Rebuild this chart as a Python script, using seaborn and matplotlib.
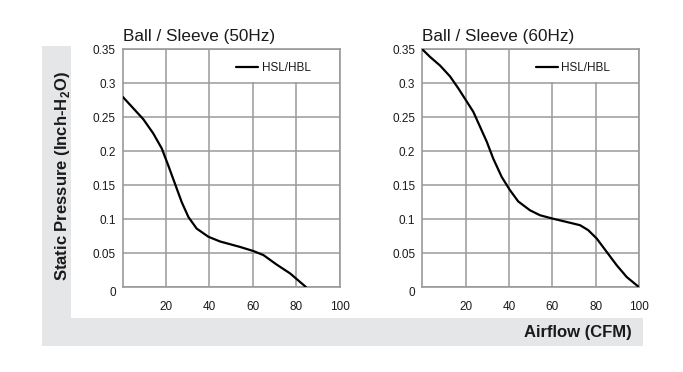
import matplotlib
matplotlib.use("Agg")
import matplotlib.pyplot as plt
from matplotlib.patches import Rectangle
import seaborn as sns
import pandas as pd

# ---- data ----
flow_50 = [0, 4.9, 9.5, 14.1, 18.0, 21.0, 24.1, 27.2, 30.3, 34.1, 39.5, 44.9, 49.5, 54.1, 60.2, 64.9, 71.0, 77.2, 84.5]
pres_50 = [0.280, 0.263, 0.247, 0.226, 0.204, 0.179, 0.152, 0.125, 0.103, 0.086, 0.074, 0.067, 0.063, 0.059, 0.053, 0.047, 0.033, 0.020, 0.0]

flow_60 = [0, 3.5, 8.2, 12.8, 16.6, 20.5, 23.5, 26.6, 29.7, 32.7, 36.6, 40.4, 44.2, 49.6, 54.2, 59.9, 66.5, 72.7, 76.5, 80.4, 85.0, 89.6, 94.2, 99.8]
pres_60 = [0.350, 0.339, 0.326, 0.310, 0.2925, 0.273, 0.258, 0.236, 0.214, 0.189, 0.162, 0.1426, 0.126, 0.113, 0.1057, 0.1008, 0.0958, 0.091, 0.0836, 0.0713, 0.0516, 0.032, 0.0147, 0.0]

titles = ["Ball / Sleeve (50Hz)", "Ball / Sleeve (60Hz)"]
series_name = "HSL/HBL"
x_ticks = [20, 40, 60, 80, 100]
y_ticks = [0, 0.05, 0.1, 0.15, 0.2, 0.25, 0.3, 0.35]
y_tick_labels = ["0", "0.05", "0.1", "0.15", "0.2", "0.25", "0.3", "0.35"]
x_label = "Airflow (CFM)"
y_label = r"Static Pressure (Inch-H$_\mathbf{2}$O)"

# ---- style ----
sns.set_style("white")
plt.rcParams["font.family"] = ["Liberation Sans", "DejaVu Sans"]
plt.rcParams["mathtext.fontset"] = "custom"
plt.rcParams["mathtext.rm"] = "Liberation Sans"
plt.rcParams["mathtext.bf"] = "Liberation Sans:bold"

GRID = "#9a9a9a"
BAND = "#e5e6e8"

fig = plt.figure(figsize=(6.83, 3.72), dpi=100)

# grey L-shaped band
fig.patches.append(Rectangle((0.0615, 0.0699), 0.042, 0.8064, transform=fig.transFigure,
                             facecolor=BAND, edgecolor="none", zorder=0))
fig.patches.append(Rectangle((0.0615, 0.0699), 0.8795, 0.0761, transform=fig.transFigure,
                             facecolor=BAND, edgecolor="none", zorder=0))

ax_pos = [[0.1797, 0.2285, 0.3174, 0.639], [0.6183, 0.2285, 0.3177, 0.639]]
datasets = [(flow_50, pres_50), (flow_60, pres_60)]

for pos, (fx, py), title in zip(ax_pos, datasets, titles):
    ax = fig.add_axes(pos)
    df = pd.DataFrame({"Airflow": fx, "Pressure": py, "Series": series_name})
    sns.lineplot(data=df, x="Airflow", y="Pressure", hue="Series", palette=["black"],
                 linewidth=1.6, ax=ax, sort=False, zorder=5)
    ax.lines[0].set_solid_joinstyle("round")
    ax.set_xlim(0, 100)
    ax.set_ylim(0, 0.35)
    ax.set_xticks(x_ticks)
    ax.set_yticks(y_ticks)
    ax.set_yticklabels(y_tick_labels)
    ax.tick_params(axis="both", length=0, labelsize=8.5, colors="#1a1a1a")
    ax.tick_params(axis="x", pad=10)
    ax.tick_params(axis="y", pad=5)
    ax.get_yticklabels()[0].set_va("top")
    ax.set_xlabel("")
    ax.set_ylabel("")
    ax.grid(True, color=GRID, linewidth=1.1, zorder=1)
    ax.set_axisbelow(True)
    for s in ax.spines.values():
        s.set_color(GRID)
        s.set_linewidth(1.2)
    # white box behind legend (hides vertical grid in top band)
    ax.add_patch(Rectangle((42, 0.3015), 57.6, 0.047, facecolor="white", edgecolor="none", zorder=2))
    leg = ax.legend(loc="upper left", bbox_to_anchor=(0.5, 0.965), frameon=False,
                    fontsize=8.5, handlelength=1.9, handletextpad=0.3, borderaxespad=0)
    for t in leg.get_texts():
        t.set_color("#1a1a1a")
    ax.set_title(title, loc="left", fontsize=12.3, pad=6, color="#1a1a1a")

fig.text(0.0908, 0.5255, y_label, rotation=90, ha="center", va="center",
         fontsize=12, fontweight="bold", color="#1a1a1a")
fig.text(0.925, 0.1075, x_label, ha="right", va="center",
         fontsize=12, fontweight="bold", color="#1a1a1a")

fig.savefig("out.png", dpi=100)
